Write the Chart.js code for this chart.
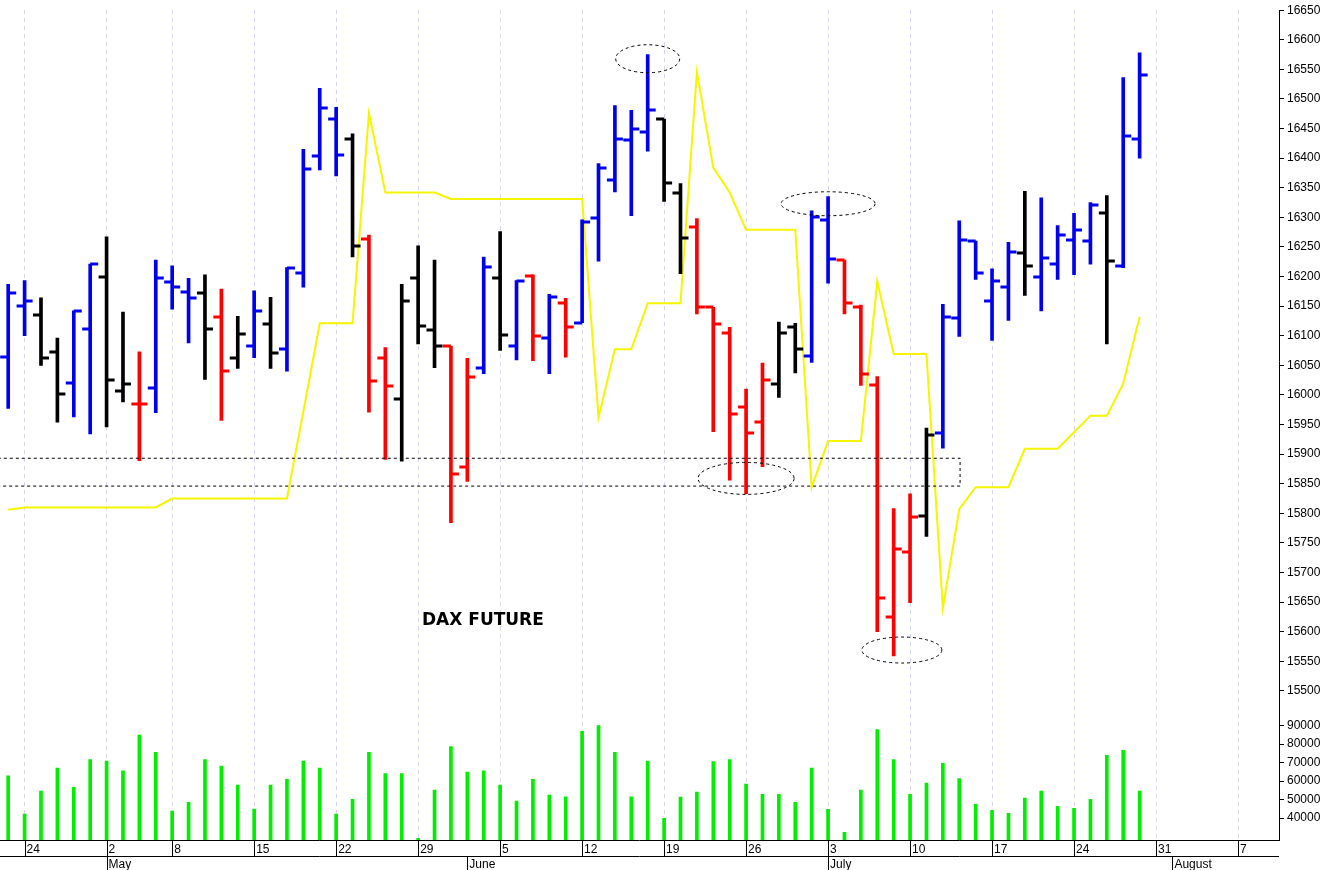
<!DOCTYPE html>
<html>
<head>
<meta charset="utf-8">
<script src="https://cdn.jsdelivr.net/npm/chart.js@4"></script>
<style>
  html, body { margin: 0; padding: 0; background: #fff; }
  #wrap { width: 1328px; height: 870px; }
</style>
</head>
<body>
<div id="wrap"><canvas id="c"></canvas></div>
<script>
// daily bars, 21 Apr .. 28 Jul
const opens = [16064,16151,16135,16073,16020,16112,16200,16006,15985,16012,
  16191,16174,16172,16131,16062,16083,16120,16077,16206,16403,
  16466,16432,16263,16062,15993,16198,16110,16082,15878,16045,
  16198,16082,16201,16096,16155,16122,16299,16363,16431,16445,
  16466,16341,16283,16148,16105,15980,15955,16019,16114,16065,
  16296,16228,16148,16017,15625,15735,15795,15936,16130,16260,
  16159,16183,16239,16200,16221,16262,16260,16307,16218,16432];
const highs = [16187,16193,16164,16096,16142,16221,16267,16140,16073,16228,
  16218,16197,16203,16179,16133,16176,16165,16215,16415,16518,
  16486,16441,16270,16080,16187,16252,16228,16082,16062,16233,
  16276,16193,16203,16170,16163,16296,16391,16489,16481,16575,
  16466,16357,16298,16148,16114,16010,16054,16123,16121,16311,
  16335,16228,16152,16031,15808,15833,15944,16153,16294,16260,
  16213,16258,16344,16333,16286,16307,16325,16337,16536,16578];
const lows = [15977,16100,16050,15954,15963,15934,15946,15988,15889,15970,
  16145,16088,16026,15957,16045,16063,16045,16040,16182,16380,
  16370,16233,15971,15891,15888,16086,16046,15784,15854,16036,
  16075,16059,16058,16036,16064,16122,16226,16343,16303,16412,
  16327,16205,16137,15938,15856,15833,15879,15996,16037,16055,
  16189,16137,16016,15600,15559,15649,15761,15910,16099,16195,
  16092,16126,16168,16142,16195,16203,16221,16086,16215,16400];
const closes = [16172,16158,16062,16001,16142,16221,16026,16019,15985,16198,
  16183,16164,16111,16040,16103,16142,16070,16214,16381,16484,
  16405,16252,16023,16015,16158,16117,16083,15867,16031,16216,
  16101,16193,16099,16165,16115,16293,16384,16433,16450,16482,
  16358,16265,16149,16120,15968,15936,16025,16105,16078,16301,
  16229,16155,16036,15657,15739,15794,15933,16131,16262,16206,
  16193,16242,16218,16231,16271,16278,16321,16227,16438,16540];
const barColors = "bbkkbbkkrbbbkrkbkbbbbkrrkkkrrbkbrbrbbbbbkkrrrrrkkbbrrrrrkbbbbbkbbbbkbb";
const volumes = [62900,42200,54600,67000,56600,71700,70800,65600,84900,75500,
  43800,48500,71700,68100,57800,44900,57800,60900,70800,67000,
  42200,50100,75500,64100,64100,29000,55100,78700,64900,65600,
  57800,49200,60900,52400,51500,87000,90100,75500,51500,70800,
  39800,51300,54000,70600,71700,58400,52800,52800,48500,67000,
  44700,32300,55100,87900,71700,52800,58900,69600,61400,47400,
  44200,42500,50800,54600,46300,45200,50100,74000,76600,54600];
const yellowLine = [15806,15810,15810,15810,15810,15810,15810,15810,15810,15810,
  15825,15825,15825,15825,15825,15825,15825,15825,15972,16121,
  16121,16121,16476,16342,16342,16342,16342,16331,16331,16331,
  16331,16331,16331,16331,16331,16331,15962,16077,16077,16155,
  16155,16155,16546,16384,16342,16279,16279,16279,16279,15844,
  15922,15922,15922,16192,16069,16069,16069,15640,15807,15844,
  15844,15844,15909,15909,15909,15937,15965,15965,16019,16132];

const slotCount = 78;
const weekTicks = [[1,"24"],[6,"2"],[10,"8"],[15,"15"],[20,"22"],[25,"29"],[30,"5"],[35,"12"],
  [40,"19"],[45,"26"],[50,"3"],[55,"10"],[60,"17"],[65,"24"],[70,"31"],[75,"7"]];
const monthTicks = [[6,"May"],[28,"June"],[50,"July"],[71,"August"]];
const priceTicks = [];
for (let v = 15500; v <= 16650; v += 50) priceTicks.push(v);
const volTicks = [40000,50000,60000,70000,80000,90000];

// ellipses: [index, price, half width px, half height px]
const ellipses = [[39,16568,32,14],[50,16323,47,12],[45,15859,48,16],[54.5,15569,40,13]];
const box = { x1: -1, x2: 58.05, top: 15893, bottom: 15846 };

const colorMap = { b: "#0000ee", r: "#ff0000", k: "#000000" };
const labels = Array.from({ length: slotCount }, (_, i) => i);
const weekIdx = weekTicks.map(t => t[0]);

const tickPlugin = {
  id: "ohlcTicks",
  afterDatasetsDraw(chart) {
    const { ctx, scales: { x, y } } = chart;
    ctx.save();
    ctx.lineWidth = 3;
    opens.forEach((o, i) => {
      const px = x.getPixelForValue(i);
      ctx.strokeStyle = colorMap[barColors[i]];
      ctx.beginPath();
      ctx.moveTo(px - 8, Math.round(y.getPixelForValue(o)));
      ctx.lineTo(px, Math.round(y.getPixelForValue(o)));
      ctx.moveTo(px, Math.round(y.getPixelForValue(closes[i])));
      ctx.lineTo(px + 8, Math.round(y.getPixelForValue(closes[i])));
      ctx.stroke();
    });
    // annotations
    ctx.strokeStyle = "#000";
    ctx.lineWidth = 1;
    ctx.setLineDash([3, 3]);
    ellipses.forEach(([i, p, rx, ry]) => {
      ctx.beginPath();
      ctx.ellipse(x.getPixelForValue(i), y.getPixelForValue(p), rx, ry, 0, 0, Math.PI * 2);
      ctx.stroke();
    });
    const bx1 = x.getPixelForValue(box.x1), bx2 = x.getPixelForValue(box.x2);
    const by1 = y.getPixelForValue(box.top), by2 = y.getPixelForValue(box.bottom);
    ctx.strokeRect(bx1, by1, bx2 - bx1, by2 - by1);
    ctx.setLineDash([]);
    ctx.fillStyle = "#000";
    ctx.font = "bold 17px 'DejaVu Sans'";
    ctx.textAlign = "center";
    ctx.textBaseline = "middle";
    ctx.fillText("DAX FUTURE", x.getPixelForValue(28.95), y.getPixelForValue(15618));
    ctx.restore();
  },
  afterDraw(chart) {
    const { ctx, chartArea: a, scales: { x } } = chart;
    const b = Math.round(a.bottom) + 0.5;
    ctx.save();
    ctx.strokeStyle = "#000";
    ctx.lineWidth = 1;
    ctx.beginPath();
    ctx.moveTo(0, b); ctx.lineTo(a.right, b);
    ctx.moveTo(0, b + 16); ctx.lineTo(a.right, b + 16);
    weekTicks.forEach(([i]) => {
      const px = Math.round(x.getPixelForValue(i)) + 0.5;
      ctx.moveTo(px, b); ctx.lineTo(px, b + 16);
    });
    monthTicks.forEach(([i]) => {
      const px = Math.round(x.getPixelForValue(i)) + 0.5;
      ctx.moveTo(px, b + 16); ctx.lineTo(px, 870);
    });
    ctx.stroke();
    ctx.fillStyle = "#000";
    ctx.font = "12px 'Liberation Sans'";
    ctx.textBaseline = "middle";
    weekTicks.forEach(([i, t]) => ctx.fillText(t, x.getPixelForValue(i) + 2, b + 9));
    monthTicks.forEach(([i, t]) => ctx.fillText(t, x.getPixelForValue(i) + 2, b + 24));
    ctx.restore();
  }
};

const yTicks = {
  color: "#000",
  font: { family: "Liberation Sans", size: 12 },
  padding: 3,
  autoSkip: false,
  callback: v => String(v)
};

new Chart(document.getElementById("c"), {
  data: {
    labels,
    datasets: [
      {
        type: "line",
        data: yellowLine,
        yAxisID: "y",
        borderColor: "#f5f500",
        borderWidth: 2,
        pointRadius: 0,
        tension: 0,
        order: 3
      },
      {
        type: "bar",
        data: lows.map((l, i) => [l, highs[i]]),
        yAxisID: "y",
        backgroundColor: [...barColors].map(c => colorMap[c]),
        barThickness: 3,
        grouped: false,
        order: 1
      },
      {
        type: "bar",
        data: volumes,
        yAxisID: "yv",
        backgroundColor: "#00ee00",
        barThickness: 3,
        grouped: false,
        order: 2
      }
    ]
  },
  options: {
    animation: false,
    responsive: true,
    maintainAspectRatio: false,
    layout: { padding: { bottom: 30, left: 0, top: 0 } },
    plugins: { legend: { display: false }, tooltip: { enabled: false } },
    scales: {
      x: {
        type: "category",
        offset: true,
        ticks: { display: false },
        border: { display: false },
        grid: {
          offset: false,
          drawTicks: false,
          color: c => weekIdx.includes(c.index) ? "#d4d4ec" : "rgba(0,0,0,0)",
          lineWidth: 1,
          tickBorderDash: [4, 4]
        },
        border: { display: false, dash: [4, 4] },
        afterFit: s => { s.height = 0; }
      },
      y: {
        position: "right",
        stack: "main",
        stackWeight: 703,
        min: 15464,
        max: 16650,
        afterBuildTicks: s => { s.ticks = priceTicks.map(v => ({ value: v })); },
        afterFit: s => { s.width = 49; },
        ticks: yTicks,
        grid: { drawOnChartArea: false, tickLength: 5, color: "#000" },
        border: { color: "#000" }
      },
      yv: {
        position: "right",
        stack: "main",
        stackWeight: 128,
        min: 28100,
        max: 97300,
        afterBuildTicks: s => { s.ticks = volTicks.map(v => ({ value: v })); },
        afterFit: s => { s.width = 49; },
        ticks: yTicks,
        grid: { drawOnChartArea: false, tickLength: 5, color: "#000" },
        border: { color: "#000" }
      }
    }
  },
  plugins: [tickPlugin]
});
</script>
</body>
</html>
